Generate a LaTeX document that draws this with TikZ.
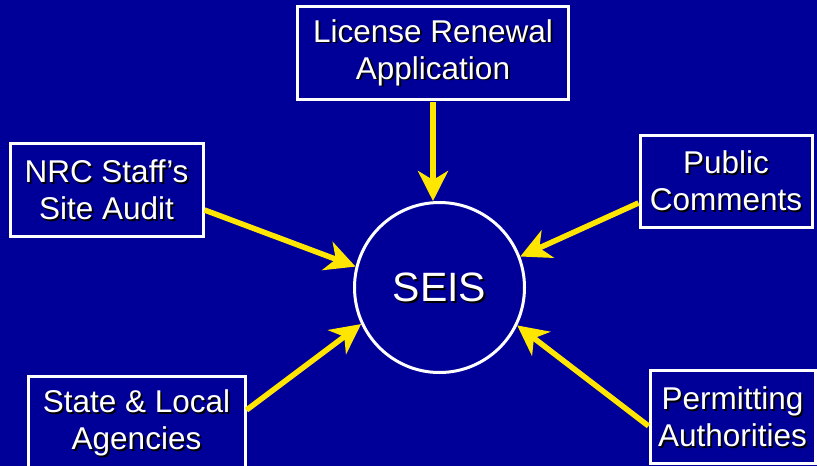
\documentclass[tikz,border=0pt]{standalone}
\usepackage{fontspec}
\setmainfont{Liberation Sans}
\usetikzlibrary{arrows.meta}
\definecolor{navy}{RGB}{0,0,153}
\definecolor{arrowyellow}{RGB}{255,230,0}
\tikzset{
  txt/.style={text=white,font=\fontsize{31.5}{37}\selectfont,align=center,inner sep=0pt},
  shad/.style={text=black,font=\fontsize{31.5}{37}\selectfont,align=center,inner sep=0pt},
  frame/.style={draw=white,line width=3pt},
  feed/.style={draw=arrowyellow,line width=5.5pt,-{Stealth[length=30pt,width=30pt,inset=9pt]}}
}
\begin{document}
\begin{tikzpicture}[x=1pt,y=-1pt]
\useasboundingbox[fill=navy] (0,0) rectangle (817,466);
% boxes
\node[frame, minimum width=271pt, minimum height=93pt] (lra) at (433,52.5) {};
\node[frame, minimum width=193pt, minimum height=93pt] (nrc) at (106.5,189.5) {};
\node[frame, minimum width=172pt, minimum height=92pt] (pub) at (726,181) {};
\node[frame, minimum width=217pt, minimum height=94pt] (sla) at (136.5,423) {};
\node[frame, minimum width=165pt, minimum height=93pt] (per) at (732.5,416.5) {};
\node[draw=white, line width=3pt, circle, minimum size=170pt] (seis) at (439.5,287.5) {};
% text shadows
\node[shad] (lras) at ([xshift=1.8pt,yshift=-1.8pt]lra.center) {License Renewal\\Application};
\node[shad] (nrcs) at ([xshift=1.8pt,yshift=-1.8pt]nrc.center) {NRC Staff’s\\Site Audit};
\node[shad] (pubs) at ([xshift=1.8pt,yshift=-1.8pt]pub.center) {Public\\Comments};
\node[shad] (slas) at ([xshift=1.8pt,yshift=-1.8pt]sla.center) {State \& Local\\Agencies};
\node[shad] (pers) at ([xshift=1.8pt,yshift=-1.8pt]per.center) {Permitting\\Authorities};
\node[shad, font=\fontsize{41}{41}\selectfont] (seiss) at ([xshift=2pt,yshift=-2pt]seis.center) {SEIS};
% texts
\node[txt] (lrat) at (lra.center) {License Renewal\\Application};
\node[txt] (nrct) at (nrc.center) {NRC Staff’s\\Site Audit};
\node[txt] (pubt) at (pub.center) {Public\\Comments};
\node[txt] (slat) at (sla.center) {State \& Local\\Agencies};
\node[txt] (pert) at (per.center) {Permitting\\Authorities};
\node[txt, font=\fontsize{41}{41}\selectfont] (seist) at (seis.center) {SEIS};
% arrows
\draw[feed] ([yshift=-1.5pt]lra.south) -- (lra.south |- seis.north);
\draw[feed] ([yshift=-20.5pt]nrc.east) -- (seis.166.4);
\draw[feed] ([yshift=-22pt]pub.west) -- (seis.21.3);
\draw[feed] ([yshift=13pt]sla.east) -- (seis.205.8);
\draw[feed] ([yshift=-9.5pt]per.west) -- (seis.334.5);
\end{tikzpicture}
\end{document}
